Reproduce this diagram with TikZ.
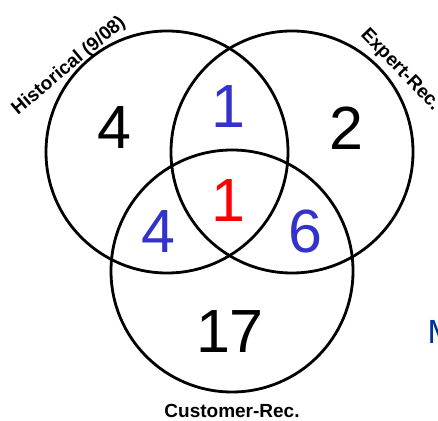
\documentclass[tikz,border=0pt]{standalone}
\usepackage{fontspec}
\setmainfont{Liberation Sans}
\definecolor{numblue}{RGB}{51,51,204}
\definecolor{numred}{RGB}{255,0,0}
\definecolor{mblue}{RGB}{0,51,153}
\tikzset{
  vcircle/.style={circle, draw=black, line width=2.8pt, minimum size=242pt, inner sep=0pt},
  num/.style={inner sep=0pt, anchor=base, font=\fontsize{61}{61}\selectfont},
  lbl/.style={inner sep=0pt, font=\fontsize{19}{19}\selectfont\bfseries}
}
\begin{document}
\begin{tikzpicture}[x=1pt,y=1pt]
\useasboundingbox (0,0) rectangle (438,420);
\begin{scope}
\clip (0,0) rectangle (438,420);
\node[vcircle] (hist) at (167,268) {};
\node[vcircle] (expert) at (292,268) {};
\node[vcircle] (cust) at (232,149) {};
\node[num] (n4) at (114,271) {4};
\node[num, numblue] (n1b) at (228,292) {1};
\node[num] (n2) at (346,270) {2};
\node[num, numred] (n1r) at (228,198) {1};
\node[num, numblue] (n4b) at (158,167) {4};
\node[num, numblue] (n6) at (305,167) {6};
\node[num] (n17) at (230,68) {17};
\node[inner sep=0pt, anchor=base west, mblue, font=\fontsize{33.5}{33.5}\selectfont] (m) at (427.5,77) {M};
\node[lbl, rotate=40] (lh) at (69,354) {Historical (9/08)};
\node[lbl, rotate=-46] (le) at (400,350) {Expert-Rec.};
\node[lbl, anchor=base] (lc) at (232,3) {Customer-Rec.};
\end{scope}
\end{tikzpicture}
\end{document}
